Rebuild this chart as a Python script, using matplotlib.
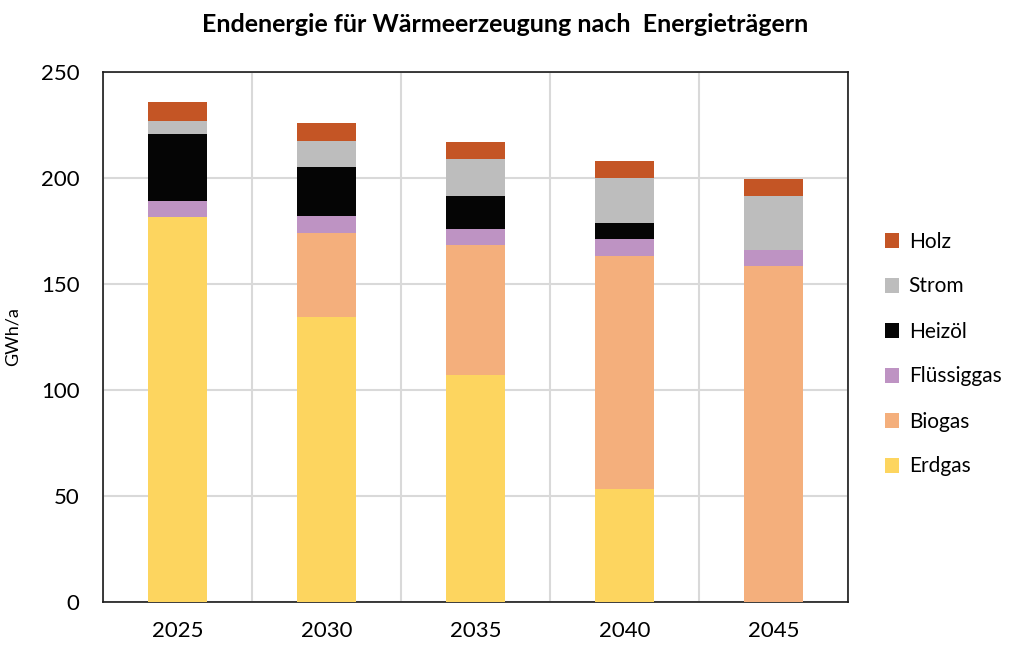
import matplotlib.pyplot as plt
import numpy as np

plt.rcParams["font.family"] = ["Lato", "DejaVu Sans"]

years = ["2025", "2030", "2035", "2040", "2045"]
erdgas = [181.5, 134.6, 107.1, 53.3, 0.0]
biogas = [0.0, 39.3, 61.5, 110.1, 158.5]
fluessiggas = [7.8, 8.0, 7.3, 7.7, 7.4]
heizoel = [31.3, 23.3, 15.6, 7.5, 0.0]
strom = [6.4, 12.3, 17.5, 21.3, 25.5]
holz = [8.9, 8.5, 8.0, 8.0, 8.0]

series = [
    ("Erdgas", erdgas, "#FDD55F"),
    ("Biogas", biogas, "#F4AF7C"),
    ("Flüssiggas", fluessiggas, "#BE93C3"),
    ("Heizöl", heizoel, "#050505"),
    ("Strom", strom, "#BDBDBD"),
    ("Holz", holz, "#C45525"),
]

fig = plt.figure(figsize=(10.13, 6.46), dpi=100)
ax = fig.add_axes([103 / 1013, 1 - 602 / 646, 745 / 1013, 530 / 646])

x = np.arange(len(years))
bottom = np.zeros(len(years))
handles = []
for name, vals, color in series:
    b = ax.bar(x, vals, width=0.4, bottom=bottom, color=color, label=name, zorder=3)
    handles.append(b)
    bottom += np.array(vals)

ax.set_xlim(-0.5, 4.5)
ax.set_ylim(0, 250)
ax.set_yticks(range(0, 251, 50))
ax.set_xticks(x)
ax.set_xticklabels(years)
ax.set_xticks(np.arange(-0.5, 4.6, 1), minor=True)
ax.grid(axis="y", color="#D9D9D9", linewidth=1.5, zorder=0)
ax.grid(axis="x", which="minor", color="#D9D9D9", linewidth=1.5, zorder=0)
ax.tick_params(axis="both", which="both", length=0, labelsize=16)
ax.tick_params(axis="y", pad=17)
ax.tick_params(axis="x", pad=14)
for s in ax.spines.values():
    s.set_color("#1a1a1a")
    s.set_linewidth(1.2)

ax.set_ylabel("GWh/a", fontsize=13)
ax.yaxis.set_label_coords(-82 / 745, 0.5)
fig.suptitle("Endenergie für Wärmeerzeugung nach  Energieträgern",
             fontsize=18, fontweight="bold", x=505 / 1013, y=1 - 24 / 646, va="center")

fig.legend(handles[::-1], [s[0] for s in series][::-1],
           loc="center left", bbox_to_anchor=(866 / 1013, 1 - 354 / 646),
           frameon=False, fontsize=15, labelspacing=1.2,
           handlelength=0.7, handleheight=0.7, handletextpad=0.45)

fig.savefig("out.png", dpi=100)
